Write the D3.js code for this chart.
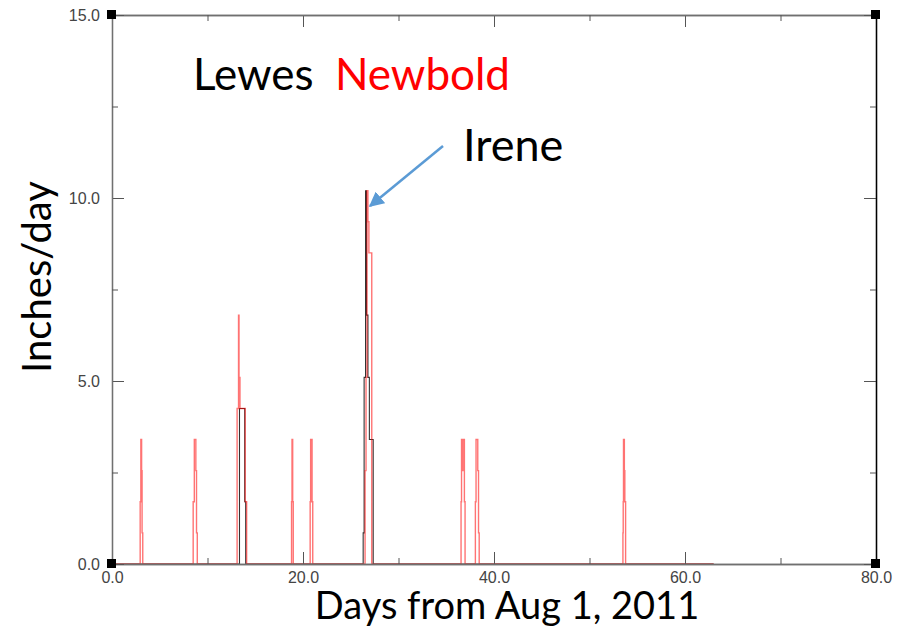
<!DOCTYPE html>
<html lang="en">
<head>
  <meta charset="UTF-8">
  <title>Rain rate - Lewes and Newbold</title>
  <script src="https://d3js.org/d3.v7.min.js"></script>
  <style>
    body { margin: 0; background: #fff; }
    .tick text { font-family: "Liberation Sans", sans-serif; font-size: 16px; fill: #444; }
    .big { font-family: Lato, "Open Sans", sans-serif; }
  </style>
</head>
<body>
  <div id="chart"></div>

  <script>
    // Days from Aug 1 2011, rate in inches/day (step series)
    const lewesDays = [0, 13.35, 13.9, 14.0, 26.3, 26.4, 26.55, 26.65, 26.8, 26.95, 27.35, 63];
    const lewesRate = [0, 4.25, 1.7, 0, 0.85, 5.1, 10.2, 6.8, 5.1, 3.4, 0, 0];

    const newboldDays = [0,
      2.95, 3.02, 3.1, 3.15, 3.22,
      8.5, 8.62, 8.78, 8.85, 8.93,
      13.1, 13.25, 13.3, 13.4, 13.95, 14.1,
      18.8, 18.85, 18.92, 18.98,
      20.75, 20.8, 20.95, 21.02,
      26.5, 26.6, 26.7, 26.8, 26.9, 27.2,
      36.55, 36.6, 36.7, 36.75, 36.9, 36.97,
      38.05, 38.12, 38.3, 38.38, 38.45,
      53.5, 53.53, 53.56, 53.65, 53.7, 53.78,
      63];
    const newboldRate = [0,
      1.7, 3.4, 2.55, 0.85, 0,
      1.7, 3.4, 2.55, 0.85, 0,
      4.25, 6.8, 5.1, 4.25, 1.7, 0,
      1.7, 3.4, 1.7, 0,
      1.7, 3.4, 1.7, 0,
      2.55, 5.1, 10.2, 9.35, 8.5, 0,
      1.7, 3.4, 2.55, 3.4, 1.7, 0,
      1.7, 3.4, 2.55, 0.85, 0,
      0.85, 1.7, 3.4, 2.55, 1.7, 0,
      0];

    const xMajor = [0, 20, 40, 60, 80];
    const xMinor = [10, 30, 50, 70];
    const yMajor = [0, 5, 10, 15];
    const yMinor = [2.5, 7.5, 12.5];

    const W = 897, H = 628;
    const x = d3.scaleLinear().domain([0, 80]).range([112, 876]);
    const y = d3.scaleLinear().domain([0, 15]).range([564, 15]);

    const svg = d3.select("#chart").append("svg")
      .attr("width", W).attr("height", H);

    const lewes = lewesDays.map((d, i) => [d, lewesRate[i]]);
    const newbold = newboldDays.map((d, i) => [d, newboldRate[i]]);

    const line = d3.line()
      .x(d => x(d[0]))
      .y(d => y(d[1]))
      .curve(d3.curveStepAfter);

    svg.append("path").datum(lewes)
      .attr("d", line)
      .attr("fill", "none")
      .attr("stroke", "#000")
      .attr("stroke-opacity", 0.8)
      .attr("stroke-width", 1.1);

    svg.append("path").datum(newbold)
      .attr("d", line)
      .attr("fill", "none")
      .attr("stroke", "#ff0000")
      .attr("stroke-opacity", 0.55)
      .attr("stroke-width", 1.4);

    // frame axes, ticks point inward
    function axisPair(axisFn, scale, pos, transform, labels) {
      const major = axisFn(scale).tickValues(pos.major).tickSize(-12).tickSizeOuter(0)
        .tickPadding(labels ? 8 : 0)
        .tickFormat(labels ? d3.format(".1f") : "");
      const minor = axisFn(scale).tickValues(pos.minor).tickSize(-6).tickSizeOuter(0).tickFormat("");
      const g = svg.append("g").attr("transform", transform);
      g.call(major);
      g.append("g").call(minor);
      g.selectAll("path.domain").attr("stroke", "#707070").attr("stroke-width", 1.3);
      g.selectAll(".tick line").attr("stroke", "#555");
      return g;
    }

    axisPair(d3.axisBottom, x, { major: xMajor, minor: xMinor }, `translate(0,${y(0)})`, true);
    axisPair(d3.axisTop, x, { major: xMajor, minor: xMinor }, `translate(0,${y(15)})`, false);
    axisPair(d3.axisLeft, y, { major: yMajor, minor: yMinor }, `translate(${x(0)},0)`, true)
      .selectAll(".tick text").attr("dx", "-4");
    axisPair(d3.axisRight, y, { major: yMajor, minor: yMinor }, `translate(${x(80)},0)`, false)
      .selectAll("path.domain").attr("stroke", "#000");

    // corner markers
    [[0, 0], [0, 15], [80, 0], [80, 15]].forEach(c => {
      svg.append("rect")
        .attr("x", x(c[0]) - 5).attr("y", y(c[1]) - 5)
        .attr("width", 9).attr("height", 9)
        .attr("fill", "#000");
    });

    // legend text
    const leg = svg.append("text").attr("class", "big")
      .attr("x", 193).attr("y", 90).attr("font-size", 44);
    leg.append("tspan").attr("fill", "#000").text("Lewes");
    leg.append("tspan").attr("fill", "#ff0000").attr("dx", 22).text("Newbold");

    svg.append("text").attr("class", "big")
      .attr("x", 463).attr("y", 161).attr("font-size", 45)
      .text("Irene");

    // arrow to the Irene peak
    svg.append("defs").append("marker")
      .attr("id", "head")
      .attr("viewBox", "0 0 10 10")
      .attr("refX", 9).attr("refY", 5)
      .attr("markerWidth", 6).attr("markerHeight", 6)
      .attr("orient", "auto")
      .append("path").attr("d", "M0,0L10,5L0,10z").attr("fill", "#5b9bd5");

    svg.append("line")
      .attr("x1", 443).attr("y1", 146)
      .attr("x2", 370).attr("y2", 206)
      .attr("stroke", "#5b9bd5")
      .attr("stroke-width", 2.5)
      .attr("marker-end", "url(#head)");

    // axis titles
    svg.append("text").attr("class", "big")
      .attr("transform", "translate(51,277) rotate(-90)")
      .attr("text-anchor", "middle")
      .attr("font-size", 40)
      .text("Inches/day");

    svg.append("text").attr("class", "big")
      .attr("x", 507).attr("y", 619)
      .attr("text-anchor", "middle")
      .attr("font-size", 38)
      .text("Days from Aug 1, 2011");
  </script>
</body>
</html>
